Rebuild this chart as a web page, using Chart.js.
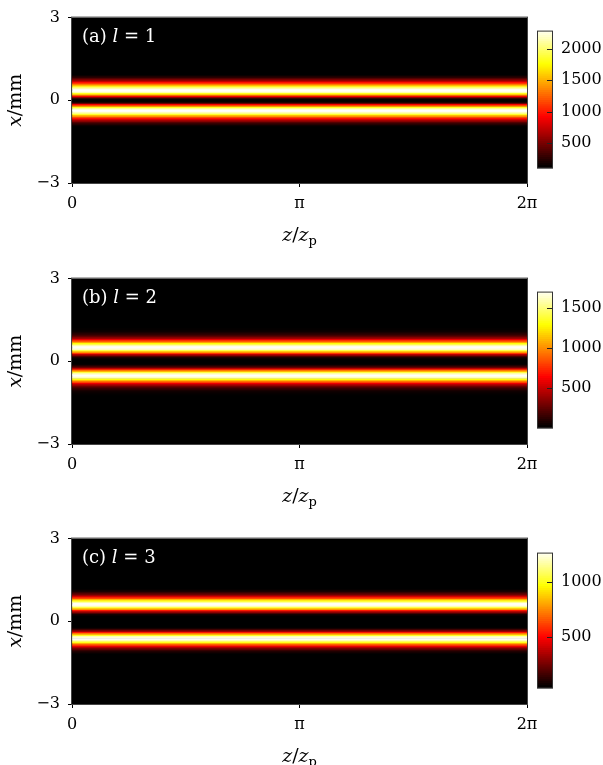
<!DOCTYPE html>
<html>
<head>
<meta charset="utf-8">
<script src="https://cdn.jsdelivr.net/npm/chart.js@4.4.1/dist/chart.umd.min.js"></script>
<style>
  html, body { margin: 0; padding: 0; background: #fff; }
  body { position: relative; width: 603px; height: 765px; overflow: hidden; }
  canvas { position: absolute; }
</style>
</head>
<body>
<canvas id="mapA" width="603" height="250" style="left:0;top:0"></canvas>
<canvas id="barA" width="66" height="180" style="left:537px;top:0"></canvas>
<canvas id="mapB" width="603" height="250" style="left:0;top:261px"></canvas>
<canvas id="barB" width="66" height="180" style="left:537px;top:261px"></canvas>
<canvas id="mapC" width="603" height="250" style="left:0;top:521px"></canvas>
<canvas id="barC" width="66" height="180" style="left:537px;top:521px"></canvas>
<script>
const Z_TICKS = [0, Math.PI, 2 * Math.PI];
const Z_TICK_LABELS = ['0', 'π', '2π'];
const X_TICKS = [-3, 0, 3];
const X_TICK_LABELS = ['−3', '0', '3'];

// |x| in mm where the transverse profile was read (bands are the same for all z)
const R_MM = [0, 0.05, 0.1, 0.15, 0.2, 0.25, 0.3, 0.35, 0.4, 0.45, 0.5, 0.55, 0.6, 0.65, 0.7, 0.75,
  0.8, 0.85, 0.9, 0.95, 1.0, 1.05, 1.1, 1.15, 1.2, 1.25, 1.3, 1.35, 1.4, 1.45, 1.5];

const INTENSITY_L1 = [0, 111, 422, 866, 1355, 1796, 2116, 2280, 2256, 2093, 1826, 1506, 1220, 950, 720, 520,
  360, 235, 145, 85, 48, 25, 12, 6, 3, 0, 0, 0, 0, 0, 0];
const INTENSITY_L2 = [0, 1, 17, 79, 218, 448, 753, 1086, 1389, 1604, 1697, 1660, 1511, 1287, 1035, 790,
  570, 395, 260, 170, 105, 60, 32, 15, 7, 3, 0, 0, 0, 0, 0];
const INTENSITY_L3 = [0, 0, 0, 4, 21, 67, 162, 316, 526, 765, 993, 1168, 1257, 1248, 1149, 987,
  800, 610, 440, 300, 195, 125, 75, 42, 22, 10, 5, 2, 0, 0, 0];

const CBAR_RANGE_L1 = [100, 2285];
const CBAR_RANGE_L2 = [0, 1700];
const CBAR_RANGE_L3 = [30, 1265];
const CBAR_TICKS_L1 = [500, 1000, 1500, 2000];
const CBAR_TICKS_L2 = [500, 1000, 1500];
const CBAR_TICKS_L3 = [500, 1000];

const SERIF = "'DejaVu Serif', 'Liberation Serif', serif";

// "hot" colour map: black -> red -> yellow -> white
function hot(t) {
  t = Math.max(0, Math.min(1, t));
  const r = Math.min(1, t / 0.365079);
  const g = Math.max(0, Math.min(1, (t - 0.365079) / (0.746032 - 0.365079)));
  const b = Math.max(0, Math.min(1, (t - 0.746032) / (1 - 0.746032)));
  return `rgb(${Math.round(r * 255)},${Math.round(g * 255)},${Math.round(b * 255)})`;
}

function buildRows(profile) {
  const rows = [];
  R_MM.forEach((r, i) => {
    rows.push({ x: r, v: profile[i] });
    if (r > 0) rows.push({ x: -r, v: profile[i] });
  });
  return rows.sort((a, b) => a.x - b.x);
}

function drawRich(ctx, parts, x, y, align) {
  let total = 0;
  parts.forEach(p => {
    ctx.font = `${p.italic ? 'italic ' : ''}${p.size || 19}px ${SERIF}`;
    p.w = ctx.measureText(p.t).width;
    total += p.w;
  });
  let cx = align === 'center' ? x - total / 2 : x;
  parts.forEach(p => {
    ctx.font = `${p.italic ? 'italic ' : ''}${p.size || 19}px ${SERIF}`;
    ctx.fillText(p.t, cx, y + (p.dy || 0));
    cx += p.w;
  });
}

function mapPlugin(tag, lval) {
  return {
    id: 'mapDecor',
    beforeDatasetsDraw(chart) {
      const { ctx, chartArea: a } = chart;
      ctx.save();
      ctx.fillStyle = '#000';
      ctx.fillRect(a.left, a.top, a.right - a.left, a.bottom - a.top);
      ctx.restore();
    },
    afterDraw(chart) {
      const { ctx, chartArea: a } = chart;
      ctx.save();
      ctx.strokeStyle = '#444';
      ctx.lineWidth = 1;
      ctx.strokeRect(a.left - 0.5, a.top - 0.5, a.right - a.left + 1, a.bottom - a.top + 1);

      ctx.textBaseline = 'alphabetic';
      ctx.textAlign = 'left';
      ctx.fillStyle = '#fff';
      drawRich(ctx, [
        { t: `(${tag}) `, size: 18 }, { t: 'l', italic: true, size: 18 }, { t: ` = ${lval}`, size: 18 },
      ], a.left + 10, a.top + 24, 'left');

      ctx.fillStyle = '#000';
      drawRich(ctx, [
        { t: 'z', italic: true }, { t: '/' }, { t: 'z', italic: true }, { t: 'p', size: 13, dy: 4 },
      ], (a.left + a.right) / 2, a.bottom + 58, 'center');

      ctx.translate(21, (a.top + a.bottom) / 2);
      ctx.rotate(-Math.PI / 2);
      drawRich(ctx, [{ t: 'x', italic: true }, { t: '/mm' }], 0, 0, 'center');
      ctx.restore();
    },
  };
}

function makeMap(id, profile, range, tag, lval) {
  const rows = buildRows(profile);
  const tickFont = { family: SERIF, size: 16 };
  new Chart(document.getElementById(id), {
    type: 'bar',
    data: {
      datasets: [{
        data: rows.map(r => ({ y: r.x, x: [0, 2 * Math.PI] })),
        backgroundColor: rows.map(r => hot((r.v - range[0]) / (range[1] - range[0]))),
        borderWidth: 0,
        barPercentage: 1,
        categoryPercentage: 1,
      }],
    },
    options: {
      indexAxis: 'y',
      responsive: false,
      animation: false,
      events: [],
      layout: { padding: { top: 16, right: 76, left: 0, bottom: 0 } },
      plugins: { legend: { display: false }, tooltip: { enabled: false } },
      scales: {
        x: {
          type: 'linear', min: 0, max: 2 * Math.PI, offset: false,
          afterBuildTicks: s => { s.ticks = Z_TICKS.map(v => ({ value: v })); },
          afterFit: s => { s.height = 250 - 16 - 167; },
          ticks: { font: tickFont, color: '#000', padding: 7, maxRotation: 0, autoSkip: false,
            callback: (v, i) => Z_TICK_LABELS[i] },
          grid: { drawOnChartArea: false, drawTicks: true, tickLength: 4, color: '#000', offset: false },
          border: { display: false },
        },
        y: {
          type: 'linear', min: -3, max: 3, offset: false,
          afterBuildTicks: s => { s.ticks = X_TICKS.map(v => ({ value: v })); },
          afterFit: s => { s.width = 72; },
          ticks: { font: tickFont, color: '#000', padding: 8, autoSkip: false,
            callback: (v, i) => X_TICK_LABELS[i] },
          grid: { drawOnChartArea: false, drawTicks: true, tickLength: 4, color: '#000', offset: false },
          border: { display: false },
        },
      },
    },
    plugins: [mapPlugin(tag, lval)],
  });
}

function colorbarConfig(range, ticks) {
  const steps = 70;
  const span = range[1] - range[0];
  const datasets = [];
  for (let i = 0; i < steps; i++) {
    const lo = range[0] + (span * i) / steps;
    // each strip overlaps the next one a little so no seams show
    const hi = Math.min(range[1], range[0] + (span * (i + 1.6)) / steps);
    datasets.push({
      data: [[lo, hi]],
      backgroundColor: hot((i + 0.5) / steps),
      borderWidth: 0,
      grouped: false,
      barPercentage: 1,
      categoryPercentage: 1,
    });
  }
  return {
    type: 'bar',
    data: { labels: [''], datasets },
    options: {
      responsive: false,
      animation: false,
      events: [],
      layout: { padding: 0 },
      plugins: { legend: { display: false }, tooltip: { enabled: false } },
      scales: {
        x: { display: false },
        y: {
          position: 'right', min: range[0], max: range[1],
          afterBuildTicks: s => { s.ticks = ticks.map(v => ({ value: v })); },
          afterFit: s => { s.width = 50; },
          ticks: { font: { family: SERIF, size: 16 }, color: '#000', padding: 8, autoSkip: false,
            callback: v => String(v) },
          grid: { display: false, drawTicks: false, tickLength: 0 },
          border: { display: false },
        },
      },
    },
    plugins: [{
      id: 'cbarFrame',
      afterDraw(chart) {
        const { ctx, chartArea: a } = chart;
        const s = chart.scales.y;
        ctx.save();
        ctx.strokeStyle = '#222';
        ctx.lineWidth = 1;
        ticks.forEach(v => {
          const y = Math.round(s.getPixelForValue(v)) + 0.5;
          ctx.beginPath();
          ctx.moveTo(a.right - 6, y);
          ctx.lineTo(a.right, y);
          ctx.stroke();
        });
        ctx.strokeStyle = '#333';
        ctx.strokeRect(a.left + 0.5, a.top + 0.5, a.right - a.left - 1, a.bottom - a.top - 1);
        ctx.restore();
      },
    }],
  };
}

// the colour bar's frame must sit at barTop..barTop+barH on the page
function makeColorbar(id, range, ticks, barTop, barH) {
  const canvas = document.getElementById(id);
  let chart = new Chart(canvas, colorbarConfig(range, ticks));
  const padTop = chart.chartArea.top;
  const padBottom = canvas.height - chart.chartArea.bottom;
  chart.destroy();
  canvas.width = 66;
  canvas.height = Math.round(barH + padTop + padBottom);
  canvas.style.top = Math.round(barTop - padTop) + 'px';
  new Chart(canvas, colorbarConfig(range, ticks));
}

makeMap('mapA', INTENSITY_L1, CBAR_RANGE_L1, 'a', 1);
makeColorbar('barA', CBAR_RANGE_L1, CBAR_TICKS_L1, 31, 138);
makeMap('mapB', INTENSITY_L2, CBAR_RANGE_L2, 'b', 2);
makeColorbar('barB', CBAR_RANGE_L2, CBAR_TICKS_L2, 292, 137);
makeMap('mapC', INTENSITY_L3, CBAR_RANGE_L3, 'c', 3);
makeColorbar('barC', CBAR_RANGE_L3, CBAR_TICKS_L3, 553, 136);
</script>
</body>
</html>
